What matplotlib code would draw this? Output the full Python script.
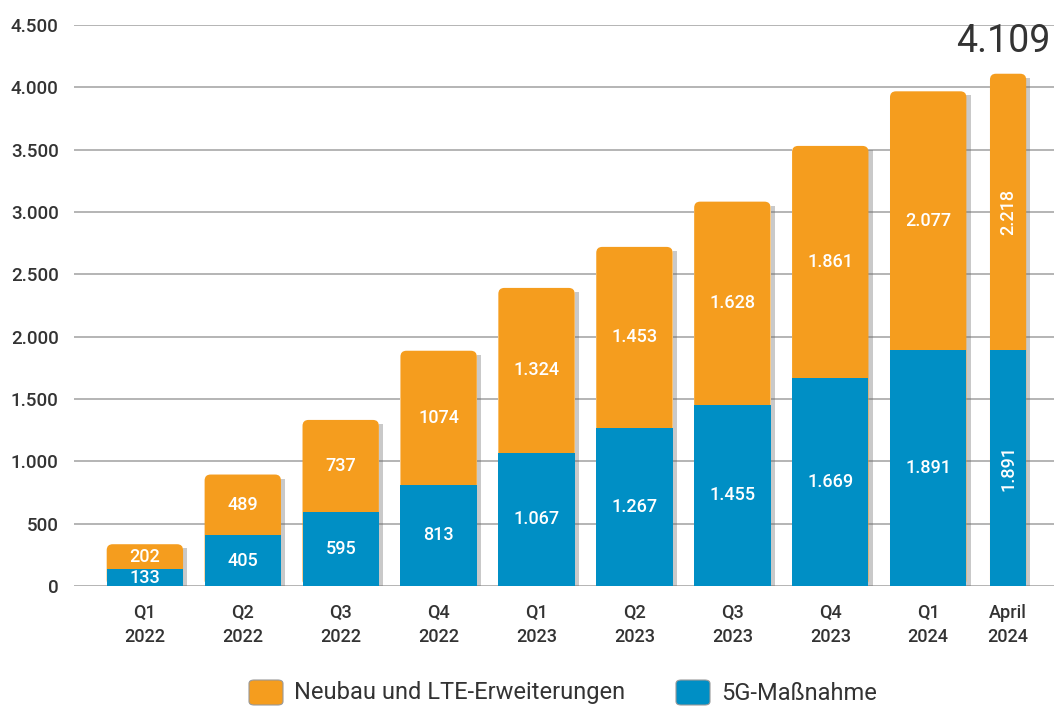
import numpy as np
import matplotlib
matplotlib.use("Agg")
import matplotlib.pyplot as plt
from matplotlib.patches import FancyBboxPatch, Rectangle
import matplotlib.patheffects as pe

plt.rcParams['font.family'] = ['Roboto', 'DejaVu Sans']

# Daten
perioden = ['Q1\n2022', 'Q2\n2022', 'Q3\n2022', 'Q4\n2022', 'Q1\n2023',
            'Q2\n2023', 'Q3\n2023', 'Q4\n2023', 'Q1\n2024', 'April\n2024']
g5 = [133, 405, 595, 813, 1067, 1267, 1455, 1669, 1891, 1891]
neubau = [202, 489, 737, 1074, 1324, 1453, 1628, 1861, 2077, 2218]
g5_text = ['133', '405', '595', '813', '1.067', '1.267', '1.455', '1.669', '1.891', '1.891']
neubau_text = ['202', '489', '737', '1074', '1.324', '1.453', '1.628', '1.861', '2.077', '2.218']
summe_text = '4.109'
yticks = [0, 500, 1000, 1500, 2000, 2500, 3000, 3500, 4000, 4500]

blau = '#008fc5'
orange = '#f59d1e'
dunkel = '#333333'

x = np.arange(len(perioden), dtype=float)
x[-1] = 8.816
breite = np.full(len(perioden), 0.78)
breite[-1] = 0.37

fig = plt.figure(figsize=(10.54, 7.06), dpi=100)
ax = fig.add_axes([0.0702, 0.170, 0.9298, 0.7946])
ax.set_xlim(-0.724, 9.285)
ax.set_ylim(0, 4500)

# Gitterlinien
for t in yticks:
    ax.axhline(t, color='#a0a0a0', lw=1.1, zorder=1)

# Seitenverhältnis Daten-Einheiten y/x pro Pixel
px_x = 10.009 / 980
px_y = 4500 / 561
aspekt = px_y / px_x

for i in range(len(x)):
    total = g5[i] + neubau[i]
    links = x[i] - breite[i] / 2
    schatten = Rectangle((links, 0), breite[i], total, facecolor='white', edgecolor='none', zorder=2)
    schatten.set_path_effects([pe.SimplePatchShadow(offset=(3, -3), shadow_rgbFace='#666666', alpha=0.35),
                               pe.Normal()])
    ax.add_patch(schatten)
    top = FancyBboxPatch((links, 0), breite[i], total,
                         boxstyle='round,pad=0,rounding_size=%f' % (6 * px_x),
                         mutation_aspect=aspekt, facecolor=orange, edgecolor='none', zorder=3)
    ax.add_patch(top)
    ax.add_patch(Rectangle((links, 0), breite[i], g5[i], facecolor=blau, edgecolor='none', zorder=4))

    rot = 90 if i == len(x) - 1 else 0
    ax.text(x[i], g5[i] / 2, g5_text[i], color='white', ha='center', va='center',
            fontsize=13, fontweight='medium', rotation=rot, zorder=5)
    ax.text(x[i], g5[i] + neubau[i] / 2, neubau_text[i], color='white', ha='center', va='center',
            fontsize=13, fontweight='medium', rotation=rot, zorder=5)

ax.text(x[-1] - 0.05, g5[-1] + neubau[-1] + 110, summe_text, ha='center', va='bottom',
        fontsize=27, color=dunkel)

ax.set_yticks(yticks)
ax.set_yticklabels([f'{t:,}'.replace(',', '.') for t in yticks], fontsize=13.5,
                   fontweight='medium', color=dunkel)
ax.set_xticks(x)
ax.set_xticklabels(perioden, fontsize=13, fontweight='medium', color=dunkel, linespacing=1.45)
ax.tick_params(axis='both', length=0)
ax.tick_params(axis='y', pad=11)
ax.tick_params(axis='x', pad=13)
for s in ax.spines.values():
    s.set_visible(False)

# Legende
fig.patches.append(FancyBboxPatch((249 / 1054, 1 - 705 / 706), 34 / 1054, 25 / 706,
                                  boxstyle='round,pad=0,rounding_size=0.005', transform=fig.transFigure,
                                  facecolor=orange, edgecolor='#999999', lw=0.8))
fig.text(294 / 1054, 1 - 693 / 706, 'Neubau und LTE-Erweiterungen', fontsize=17, color=dunkel,
         va='center', ha='left')
fig.patches.append(FancyBboxPatch((676 / 1054, 1 - 705 / 706), 34 / 1054, 25 / 706,
                                  boxstyle='round,pad=0,rounding_size=0.005', transform=fig.transFigure,
                                  facecolor=blau, edgecolor='#999999', lw=0.8))
fig.text(721 / 1054, 1 - 693 / 706, '5G-Maßnahme', fontsize=17, color=dunkel,
         va='center', ha='left')

fig.savefig('out.png', dpi=100)
